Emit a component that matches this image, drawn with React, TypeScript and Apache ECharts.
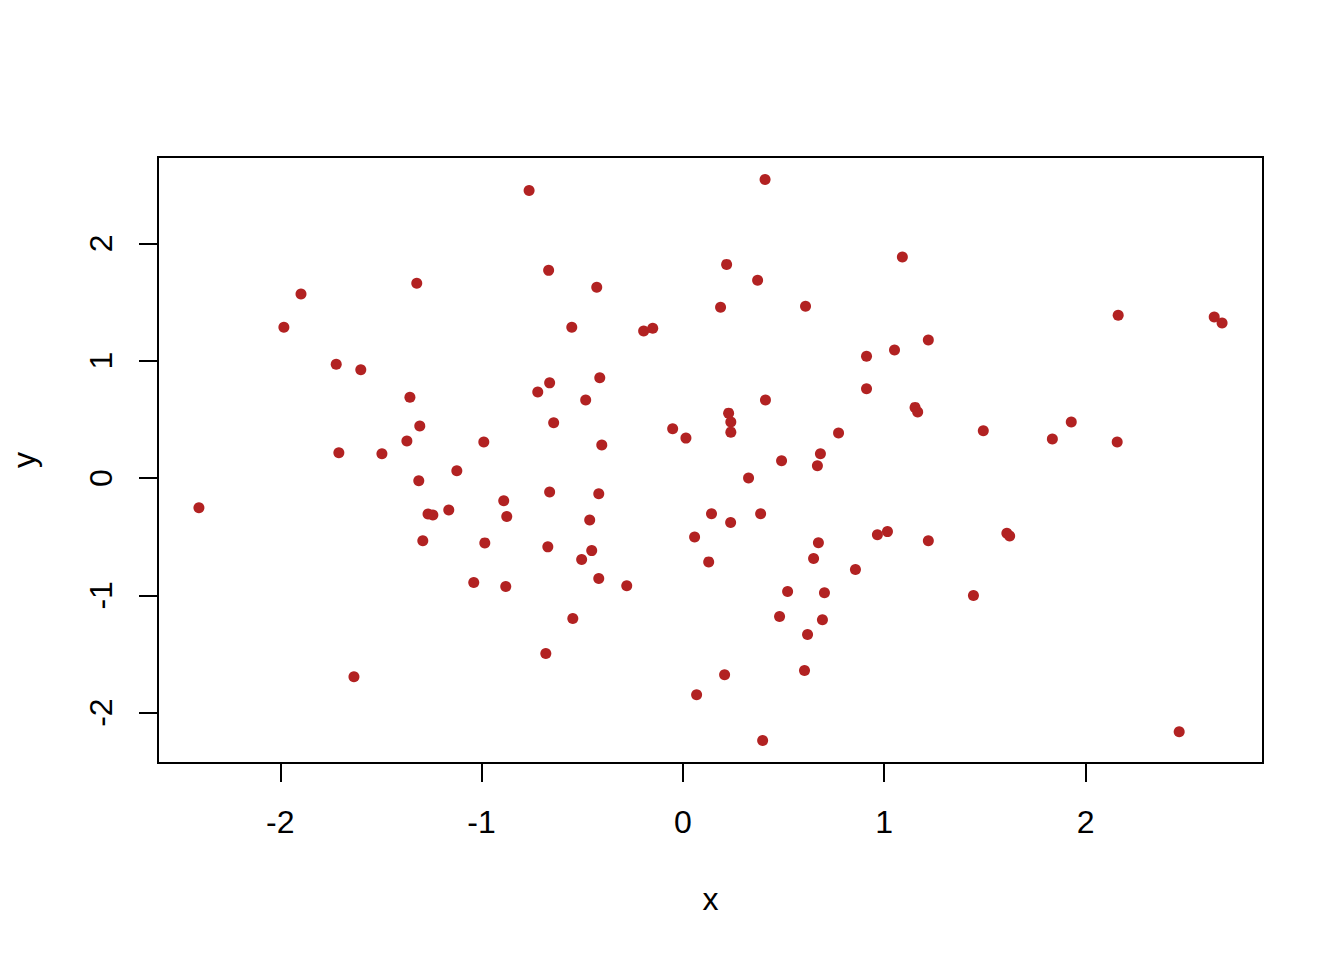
import React, { useEffect, useRef } from "react";
import * as echarts from "echarts";

const xValues: number[] = [
  -2.404, -1.982, -1.897, -1.722, -1.709, -1.634, -1.600, -1.495, -1.371, -1.356,
  -1.322, -1.307, -1.312, -1.292, -1.266, -1.242, -1.163, -1.123, -1.039, -0.989,
  -0.984, -0.890, -0.880, -0.875, -0.764, -0.721, -0.681, -0.667, -0.662, -0.662,
  -0.671, -0.642, -0.552, -0.547, -0.503, -0.483, -0.463, -0.453, -0.428, -0.418,
  -0.418, -0.413, -0.403, -0.279, -0.195, -0.150, -0.051, 0.015, 0.058, 0.068,
  0.128, 0.142, 0.187, 0.207, 0.217, 0.227, 0.238, 0.238, 0.237, 0.326,
  0.371, 0.386, 0.396, 0.408, 0.410, 0.480, 0.490, 0.520, 0.604, 0.609,
  0.619, 0.649, 0.673, 0.668, 0.683, 0.693, 0.703, 0.773, 0.857, 0.912,
  0.912, 0.966, 1.016, 1.051, 1.090, 1.153, 1.166, 1.219, 1.219, 1.443,
  1.492, 1.609, 1.623, 1.835, 1.929, 2.157, 2.162, 2.465, 2.639, 2.678,
];

const yValues: number[] = [
  -0.253, 1.285, 1.569, 0.970, 0.215, -1.694, 0.922, 0.207, 0.315, 0.689,
  1.660, 0.443, -0.023, -0.534, -0.306, -0.315, -0.272, 0.062, -0.891, 0.306,
  -0.553, -0.193, -0.925, -0.329, 2.451, 0.734, -1.495, 1.770, 0.811, -0.119,
  -0.587, 0.471, 1.285, -1.197, -0.695, 0.664, -0.357, -0.619, 1.626, -0.134,
  -0.857, 0.854, 0.281, -0.919, 1.254, 1.277, 0.420, 0.340, -0.502, -1.847,
  -0.715, -0.304, 1.455, -1.677, 1.821, 0.553, 0.477, 0.391, -0.380, 0.000,
  1.685, -0.304, -2.238, 2.545, 0.664, -1.180, 0.147, -0.968, -1.640, 1.464,
  -1.334, -0.687, -0.551, 0.105, 0.207, -1.209, -0.979, 0.383, -0.780, 1.038,
  0.760, -0.483, -0.457, 1.092, 1.883, 0.602, 0.562, -0.534, 1.177, -1.002,
  0.403, -0.471, -0.494, 0.332, 0.477, 0.306, 1.387, -2.162, 1.373, 1.322,
];

const xTicks: number[] = [-2, -1, 0, 1, 2];
const yTicks: number[] = [-2, -1, 0, 1, 2];

const FONT = '"Liberation Sans", Arial, sans-serif';

export default function App() {
  const ref = useRef<HTMLDivElement>(null);

  useEffect(() => {
    if (!ref.current) return;
    const chart = echarts.init(ref.current, undefined, { renderer: "svg" });
    const data = xValues.map((x, i) => [x, yValues[i]]);
    const xr = [Math.min(...xValues), Math.max(...xValues)];
    const yr = [Math.min(...yValues), Math.max(...yValues)];
    const xpad = (xr[1] - xr[0]) * 0.04;
    const ypad = (yr[1] - yr[0]) * 0.04;

    const axisCommon = {
      axisLine: { show: true, onZero: false, lineStyle: { color: "#000", width: 2 } },
      axisTick: { show: true, length: 19, lineStyle: { color: "#000", width: 2 } },
      splitLine: { show: false },
      nameTextStyle: { fontFamily: FONT, fontSize: 32, color: "#000" },
    };

    chart.setOption({
      animation: false,
      backgroundColor: "#fff",
      grid: {
        left: 157,
        top: 157,
        width: 1106,
        height: 606,
        show: true,
        borderColor: "#000",
        borderWidth: 2,
        backgroundColor: "transparent",
      },
      xAxis: {
        type: "value",
        min: xr[0] - xpad,
        max: xr[1] + xpad,
        name: "x",
        nameLocation: "middle",
        nameGap: 120,
        ...axisCommon,
        axisTick: { ...axisCommon.axisTick, customValues: xTicks },
        axisLabel: {
          customValues: xTicks,
          margin: 43,
          fontFamily: FONT,
          fontSize: 32,
          color: "#000",
        },
      },
      yAxis: {
        type: "value",
        min: yr[0] - ypad,
        max: yr[1] + ypad,
        name: "y",
        nameLocation: "middle",
        nameGap: 118,
        ...axisCommon,
        axisTick: { ...axisCommon.axisTick, customValues: yTicks },
        axisLabel: {
          customValues: yTicks,
          margin: 41,
          rotate: 90,
          fontFamily: FONT,
          fontSize: 32,
          color: "#000",
        },
      },
      series: [
        {
          type: "scatter",
          data,
          symbol: "circle",
          symbolSize: 11,
          itemStyle: { color: "#B22222", opacity: 1 },
        },
      ],
    });
    return () => chart.dispose();
  }, []);

  return (
    <div
      ref={ref}
      style={{ position: "absolute", left: 0, top: 0, width: 1344, height: 960, background: "#fff" }}
    />
  );
}
